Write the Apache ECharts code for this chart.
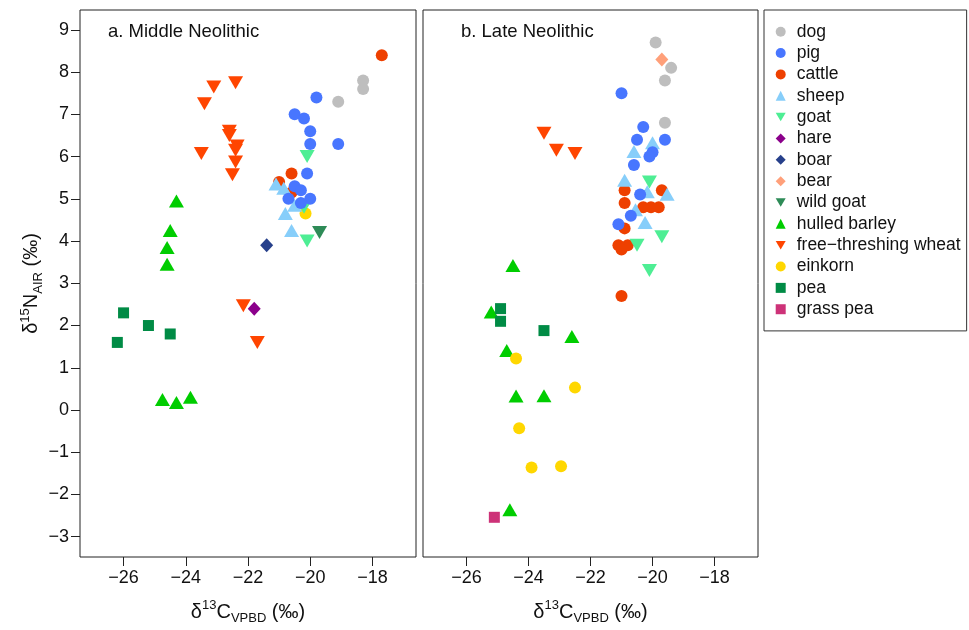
<!DOCTYPE html>
<html>
<head>
<meta charset="utf-8">
<script src="https://cdn.jsdelivr.net/npm/echarts@6/dist/echarts.min.js"></script>
<style>html,body{margin:0;padding:0;background:#fff}#c{width:969px;height:630px}</style>
</head>
<body>
<div id="c"></div>
<script>
// ---------- data (δ13C, δ15N) ----------
const xTicks = [-26, -24, -22, -20, -18];
const yTicks = [-3, -2, -1, 0, 1, 2, 3, 4, 5, 6, 7, 8, 9];
const panelTitles = ['a. Middle Neolithic', 'b. Late Neolithic'];
const species = ['dog','pig','cattle','sheep','goat','hare','boar','bear','wild goat','hulled barley','free\u2212threshing wheat','einkorn','pea','grass pea'];

// Middle Neolithic
const mnDog = [[-18.3,7.8],[-18.3,7.6],[-19.1,7.3]];
const mnPig = [[-19.8,7.4],[-20.5,7.0],[-20.2,6.9],[-20.0,6.6],[-20.0,6.3],[-19.1,6.3],[-20.1,5.6],[-20.5,5.3],[-20.3,5.2],[-20.7,5.0],[-20.0,5.0],[-20.3,4.9]];
const mnCattle = [[-17.7,8.4],[-20.6,5.6],[-21.0,5.4],[-20.6,5.15]];
const mnSheep = [[-21.1,5.35],[-20.85,5.25],[-20.5,4.85],[-20.8,4.65],[-20.6,4.25]];
const mnGoat = [[-20.1,6.0],[-20.2,4.8],[-20.1,4.0]];
const mnHare = [[-21.8,2.4]];
const mnBoar = [[-21.4,3.9]];
const mnBear = [];
const mnWildGoat = [[-19.7,4.2]];
const mnBarley = [[-24.3,4.95],[-24.5,4.25],[-24.6,3.85],[-24.6,3.45],[-24.75,0.25],[-24.3,0.18],[-23.85,0.3]];
const mnWheat = [[-23.1,7.65],[-22.4,7.75],[-23.4,7.25],[-22.6,6.6],[-22.6,6.5],[-22.35,6.25],[-22.4,6.15],[-23.5,6.07],[-22.4,5.87],[-22.5,5.57],[-22.15,2.47],[-21.7,1.6]];
const mnEinkorn = [[-20.15,4.65]];
const mnPea = [[-26.0,2.3],[-25.2,2.0],[-24.5,1.8],[-26.2,1.6]];
const mnGrassPea = [];

// Late Neolithic
const lnDog = [[-19.9,8.7],[-19.4,8.1],[-19.6,7.8],[-19.6,6.8]];
const lnPig = [[-21.0,7.5],[-20.3,6.7],[-20.5,6.4],[-19.6,6.4],[-20.0,6.1],[-20.1,6.0],[-20.6,5.8],[-20.4,5.1],[-20.7,4.6],[-21.1,4.4]];
const lnCattle = [[-20.9,5.2],[-19.7,5.2],[-20.9,4.9],[-20.3,4.8],[-20.05,4.8],[-19.8,4.8],[-20.9,4.3],[-21.1,3.9],[-20.8,3.9],[-21.0,3.8],[-21.0,2.7]];
const lnSheep = [[-20.0,6.33],[-20.6,6.12],[-20.9,5.44],[-20.17,5.17],[-19.53,5.11],[-20.55,4.74],[-20.24,4.44]];
const lnGoat = [[-20.1,5.4],[-19.7,4.1],[-20.5,3.9],[-20.1,3.3]];
const lnHare = [];
const lnBoar = [];
const lnBear = [[-19.7,8.3]];
const lnWildGoat = [];
const lnBarley = [[-24.5,3.42],[-25.2,2.32],[-22.6,1.74],[-24.7,1.41],[-24.4,0.33],[-23.5,0.34],[-24.6,-2.36]];
const lnWheat = [[-23.5,6.55],[-23.1,6.15],[-22.5,6.07]];
const lnEinkorn = [[-24.4,1.22],[-22.5,0.53],[-24.3,-0.43],[-23.9,-1.36],[-22.95,-1.33]];
const lnPea = [[-24.9,2.4],[-24.9,2.1],[-23.5,1.88]];
const lnGrassPea = [[-25.1,-2.54]];

// ---------- styling ----------
const FONT = '"Liberation Sans", Arial, Helvetica, sans-serif';
const DOWN = 'path://M0,0L14,0L7,12Z';
const style = {
  'dog':            {color:'#BEBEBE', symbol:'circle',   size:12},
  'pig':            {color:'#4876FF', symbol:'circle',   size:12},
  'cattle':         {color:'#EE4000', symbol:'circle',   size:12},
  'sheep':          {color:'#87CEFA', symbol:'triangle', size:[15,13]},
  'goat':           {color:'#4EEE94', symbol:DOWN,       size:[15,13]},
  'hare':           {color:'#8B008B', symbol:'diamond',  size:[13,14]},
  'boar':           {color:'#27408B', symbol:'diamond',  size:[13,14]},
  'bear':           {color:'#FFA07A', symbol:'diamond',  size:[13,14]},
  'wild goat':      {color:'#2E8B57', symbol:DOWN,       size:[15,13]},
  'hulled barley':  {color:'#00CD00', symbol:'triangle', size:[15,13]},
  'free\u2212threshing wheat': {color:'#FF4500', symbol:DOWN, size:[15,13]},
  'einkorn':        {color:'#FFD700', symbol:'circle',   size:12},
  'pea':            {color:'#008B45', symbol:'rect',     size:11},
  'grass pea':      {color:'#CD3278', symbol:'rect',     size:11}
};
const panels = [
  {'dog':mnDog,'pig':mnPig,'cattle':mnCattle,'sheep':mnSheep,'goat':mnGoat,'hare':mnHare,'boar':mnBoar,'bear':mnBear,'wild goat':mnWildGoat,'hulled barley':mnBarley,'free\u2212threshing wheat':mnWheat,'einkorn':mnEinkorn,'pea':mnPea,'grass pea':mnGrassPea},
  {'dog':lnDog,'pig':lnPig,'cattle':lnCattle,'sheep':lnSheep,'goat':lnGoat,'hare':lnHare,'boar':lnBoar,'bear':lnBear,'wild goat':lnWildGoat,'hulled barley':lnBarley,'free\u2212threshing wheat':lnWheat,'einkorn':lnEinkorn,'pea':lnPea,'grass pea':lnGrassPea}
];
// drawing order (later on top)
const drawOrder = ['hulled barley','free\u2212threshing wheat','pea','grass pea','einkorn','dog','bear','cattle','sheep','goat','pig','hare','boar','wild goat'];

const minus = v => String(v).replace('-', '\u2212');
const nameRich = {
  a:   {fontSize:20, fontFamily:FONT, color:'#111', lineHeight:26},
  sup: {fontSize:13, fontFamily:FONT, color:'#111', lineHeight:13, verticalAlign:'top'},
  sub: {fontSize:13, fontFamily:FONT, color:'#111', lineHeight:13, verticalAlign:'bottom'}
};

const grids = [
  {left:80, top:10, width:336, height:549, show:true, borderColor:'#222', borderWidth:1, backgroundColor:'#fff'},
  {left:423, top:10, width:335, height:549, show:true, borderColor:'#222', borderWidth:1, backgroundColor:'#fff'}
];
const xAxes = [0,1].map(i => ({
  type:'value', gridIndex:i, min:-27.4, max:-16.6,
  axisLine:{show:false, onZero:false}, splitLine:{show:false},
  axisTick:{show:true, customValues:xTicks, length:9, inside:false, lineStyle:{color:'#222'}},
  axisLabel:{show:true, customValues:xTicks, formatter:minus, fontSize:18, fontFamily:FONT, color:'#111', margin:12},
  name:'{a|δ}{sup|13}{a|C}{sub|VPBD}{a| (‰)}', nameLocation:'middle', nameGap:42,
  nameTextStyle:{rich:nameRich}
}));
const yAxes = [0,1].map(i => ({
  type:'value', gridIndex:i, min:-3.48, max:9.47,
  axisLine:{show:false, onZero:false}, splitLine:{show:false},
  axisTick:{show:i===0, customValues:yTicks, length:9, lineStyle:{color:'#222'}},
  axisLabel:{show:i===0, customValues:yTicks, formatter:minus, fontSize:18, fontFamily:FONT, color:'#111', margin:11},
  name: i===0 ? '{a|δ}{sup|15}{a|N}{sub|AIR}{a| (‰)}' : '', nameLocation:'middle', nameGap:35,
  nameTextStyle:{rich:nameRich}
}));

const series = [];
for (let p = 0; p < 2; p++) {
  for (const sp of drawOrder) {
    const st = style[sp];
    series.push({
      type:'scatter', name:sp, xAxisIndex:p, yAxisIndex:p,
      data:panels[p][sp], symbol:st.symbol, symbolSize:st.size,
      itemStyle:{color:st.color, opacity:1}, emphasis:{disabled:true}, silent:true
    });
  }
}

const chart = echarts.init(document.getElementById('c'), null, {renderer:'canvas'});
chart.setOption({
  animation:false,
  backgroundColor:'#fff',
  grid:grids, xAxis:xAxes, yAxis:yAxes, series:series,
  legend:{
    data:species, orient:'vertical', left:764, top:10,
    padding:[11,6,11,11.7], itemGap:0, itemWidth:10, itemHeight:10,
    borderColor:'#333', borderWidth:1, selectedMode:false,
    textStyle:{fontSize:17.5, fontFamily:FONT, color:'#111', lineHeight:21.35, padding:[0,0,0,6]}
  },
  graphic:[
    {type:'text', left:108, top:22, style:{text:panelTitles[0], font:'18.5px ' + FONT, fill:'#111'}},
    {type:'text', left:461, top:22, style:{text:panelTitles[1], font:'18.5px ' + FONT, fill:'#111'}}
  ]
});
</script>
</body>
</html>
